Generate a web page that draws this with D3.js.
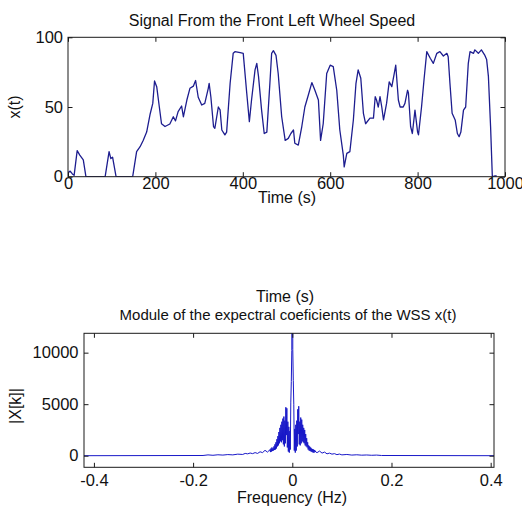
<!DOCTYPE html>
<html>
<head>
<meta charset="utf-8">
<script src="https://cdn.jsdelivr.net/npm/d3@7"></script>
<style>
  body { margin: 0; background: #fff; }
  text { font-family: "Liberation Sans", Arial, sans-serif; fill: #111; }
</style>
</head>
<body>
<svg id="chart" width="522" height="510"></svg>
<script>
// wheel speed signal (time in s, value)
const wssTime = [0, 5, 10, 14, 21, 27, 35, 41, 60, 85, 94, 98, 102, 110, 130, 148, 157, 165, 172, 180, 188, 194, 198, 203, 209, 214, 222, 233, 241, 246, 252, 260, 264, 272, 279, 287, 292, 298, 306, 313, 321, 323, 327, 333, 336, 344, 348, 352, 359, 363, 371, 378, 382, 394, 401, 409, 415, 420, 428, 432, 436, 443, 449, 455, 462, 466, 470, 476, 481, 489, 497, 504, 510, 516, 519, 527, 535, 542, 550, 558, 565, 573, 578, 584, 592, 600, 607, 615, 622, 630, 632, 638, 645, 653, 659, 664, 670, 676, 681, 691, 699, 703, 706, 710, 714, 718, 722, 729, 735, 741, 746, 750, 756, 760, 767, 771, 777, 779, 784, 788, 794, 800, 802, 809, 815, 821, 829, 836, 844, 851, 859, 867, 870, 874, 879, 886, 891, 895, 899, 905, 910, 916, 920, 928, 931, 939, 946, 954, 958, 962, 967, 971, 976, 981];
const wssValue = [3, 4, 2, 1, 18.7, 15.5, 12, 0, 0, 0, 18, 13, 14, 0, 0, 0, 18, 21.5, 26, 32, 45, 52.6, 68.7, 64.6, 50, 38, 36, 37.8, 43, 40, 46.7, 50.7, 43, 55, 63.4, 65, 69, 57, 51.4, 52.6, 63.4, 67, 57, 36, 34.7, 50, 48, 33.5, 30, 32, 67, 88.5, 89.7, 89, 88.5, 60, 39.5, 55, 76.6, 81.3, 71.8, 47.8, 31, 32, 67, 88.5, 90.4, 87, 74, 43, 26, 27.5, 31, 33.5, 24, 22.7, 36, 50, 58.6, 67.5, 62, 55, 26, 38, 74, 80, 79, 62, 33.5, 15.5, 7, 16.7, 18, 40.7, 67, 76.6, 70.6, 45.5, 38, 42, 42, 57.4, 55, 50, 57.4, 50, 40.7, 52.6, 68, 64.6, 73, 80, 55, 50, 50, 52.6, 62, 60, 36, 31, 47.8, 32, 30, 50, 70.6, 89.7, 85, 81.3, 88.5, 89.7, 86.6, 88.5, 86, 67, 45.5, 40.7, 31, 28.7, 32, 47.8, 50, 81.3, 89.7, 88.5, 91, 88.5, 91, 87, 84, 72, 36, 0, 0.5, 0.5];

// spectrum magnitude |X[k]| (frequency in Hz)
const specFreq = [-0.42, -0.18, -0.17, -0.16, -0.15, -0.14, -0.13, -0.12, -0.11, -0.10, -0.095, -0.09, -0.085, -0.08, -0.075, -0.07, -0.065, -0.06, -0.055, -0.05, -0.0475,
  -0.045, -0.044, -0.043, -0.042, -0.041, -0.040, -0.039, -0.038, -0.037, -0.036, -0.035, -0.034, -0.033, -0.032, -0.031, -0.030, -0.029, -0.028, -0.027, -0.026, -0.025, -0.024, -0.023, -0.022, -0.021, -0.020, -0.019, -0.018, -0.017, -0.016, -0.015, -0.014, -0.013, -0.012, -0.011, -0.010, -0.009, -0.008, -0.007, -0.006, -0.005, -0.004, -0.003, -0.002, -0.001, 0,
  0.001, 0.002, 0.003, 0.004, 0.005, 0.006, 0.007, 0.008, 0.009, 0.010, 0.011, 0.012, 0.013, 0.014, 0.015, 0.016, 0.017, 0.018, 0.019, 0.020, 0.021, 0.022, 0.023, 0.024, 0.025, 0.026, 0.027, 0.028, 0.029, 0.030, 0.031, 0.032, 0.033, 0.034, 0.035, 0.036, 0.037, 0.038, 0.039, 0.040, 0.041, 0.042, 0.043, 0.044, 0.045,
  0.0475, 0.05, 0.055, 0.06, 0.065, 0.07, 0.075, 0.08, 0.085, 0.09, 0.095, 0.10, 0.11, 0.12, 0.13, 0.14, 0.15, 0.16, 0.17, 0.18, 0.407];
const specMag = [0, 20, 80, 40, 90, 60, 110, 80, 150, 120, 220, 180, 260, 200, 300, 220, 380, 300, 520, 350, 450,
  600, 350, 700, 400, 800, 450, 700, 500, 900, 550, 1100, 600, 1300, 700, 1600, 900, 1900, 1000, 2300, 1200, 2700, 1400, 3000, 1300, 3300, 1500, 3600, 1100, 3800, 900, 3400, 1200, 4700, 2000, 4600, 800, 3300, 400, 2800, 300, 2400, 600, 5200, 7200, 10200, 45000,
  10300, 7300, 5000, 500, 2600, 300, 3000, 500, 3400, 900, 4500, 2100, 4800, 1100, 3300, 1000, 3700, 1200, 3500, 1400, 3000, 1300, 2700, 1200, 2500, 1000, 2100, 900, 1700, 800, 1300, 600, 1000, 500, 900, 450, 800, 400, 700, 350, 650, 300, 600, 300, 550,
  350, 300, 450, 250, 350, 180, 250, 150, 200, 100, 160, 80, 120, 60, 90, 50, 70, 40, 60, 20, 0];

const timeTicks = [0, 200, 400, 600, 800, 1000];
const wssTicks = [0, 50, 100];
const freqTicks = [-0.4, -0.2, 0, 0.2, 0.4];
const magTicks = [0, 5000, 10000];

const svg = d3.select("#chart");
const fs = 16;

function panel(opt) {
  const x = d3.scaleLinear().domain(opt.xDomain).range([opt.left, opt.right]);
  const y = d3.scaleLinear().domain(opt.yDomain).range([opt.bottom, opt.top]);
  const g = svg.append("g");

  g.append("clipPath").attr("id", opt.id)
    .append("rect")
    .attr("x", opt.left).attr("y", opt.top)
    .attr("width", opt.right - opt.left).attr("height", opt.bottom - opt.top);

  const line = d3.line().x(d => x(d[0])).y(d => y(d[1]));
  g.append("path")
    .datum(d3.zip(opt.xs, opt.ys))
    .attr("clip-path", `url(#${opt.id})`)
    .attr("fill", "none")
    .attr("stroke", opt.color)
    .attr("stroke-width", opt.width)
    .attr("stroke-linejoin", "round")
    .attr("d", line);

  // box with inward ticks on all four sides (matlab style)
  const tk = 4.5;
  const axisCol = "#1a1a1a";
  const fmt = d => String(d);
  g.append("rect")
    .attr("x", opt.left).attr("y", opt.top)
    .attr("width", opt.right - opt.left).attr("height", opt.bottom - opt.top)
    .attr("fill", "none").attr("stroke", axisCol).attr("stroke-width", 1);

  const bottomAx = d3.axisBottom(x).tickValues(opt.xTicks).tickSizeInner(-tk).tickSizeOuter(0).tickPadding(opt.xPad).tickFormat(fmt);
  const topAx = d3.axisTop(x).tickValues(opt.xTicks).tickSizeInner(-tk).tickSizeOuter(0).tickFormat("");
  const leftAx = d3.axisLeft(y).tickValues(opt.yTicks).tickSizeInner(-tk).tickSizeOuter(0).tickPadding(opt.yPad).tickFormat(fmt);
  const rightAx = d3.axisRight(y).tickValues(opt.yTicks).tickSizeInner(-tk).tickSizeOuter(0).tickFormat("");

  [[bottomAx, `translate(0,${opt.bottom})`], [topAx, `translate(0,${opt.top})`],
   [leftAx, `translate(${opt.left},0)`], [rightAx, `translate(${opt.right},0)`]].forEach(([ax, tr]) => {
    const a = g.append("g").attr("transform", tr).call(ax);
    a.select(".domain").remove();
    a.selectAll("line").attr("stroke", axisCol);
    a.selectAll("text").attr("font-size", 16.5).attr("fill", "#111")
      .attr("font-family", "Liberation Sans, Arial, sans-serif");
  });
  return { x, y, g };
}

// top panel
panel({
  id: "clipTop", left: 68, right: 505, top: 37.3, bottom: 176.7,
  xDomain: [0, 1000], yDomain: [0, 100],
  xTicks: timeTicks, yTicks: wssTicks, xPad: 1, yPad: 5,
  xs: wssTime, ys: wssValue, color: "#1d1d8f", width: 1.3
});

svg.append("text").attr("x", 272).attr("y", 26).attr("text-anchor", "middle")
  .attr("font-size", fs).text("Signal From the Front Left Wheel Speed");
svg.append("text").attr("x", 287).attr("y", 203).attr("text-anchor", "middle")
  .attr("font-size", fs).text("Time (s)");
svg.append("text").attr("transform", "translate(20,107) rotate(-90)").attr("text-anchor", "middle")
  .attr("font-size", fs).text("x(t)");

// bottom panel
panel({
  id: "clipBottom", left: 84, right: 494, top: 333.3, bottom: 467.3,
  xDomain: [-0.42, 0.4067], yDomain: [-1126, 11880],
  xTicks: freqTicks, yTicks: magTicks, xPad: 7, yPad: 5.5,
  xs: specFreq, ys: specMag, color: "#1818c8", width: 1
});

svg.append("text").attr("x", 285).attr("y", 302).attr("text-anchor", "middle")
  .attr("font-size", fs).text("Time (s)");
svg.append("text").attr("x", 288).attr("y", 320).attr("text-anchor", "middle")
  .attr("font-size", 15).text("Module of the expectral coeficients of the WSS x(t)");
svg.append("text").attr("x", 292).attr("y", 503).attr("text-anchor", "middle")
  .attr("font-size", fs).text("Frequency (Hz)");
svg.append("text").attr("transform", "translate(21,406) rotate(-90)").attr("text-anchor", "middle")
  .attr("font-size", fs).text("|X[k]|");
</script>
</body>
</html>
